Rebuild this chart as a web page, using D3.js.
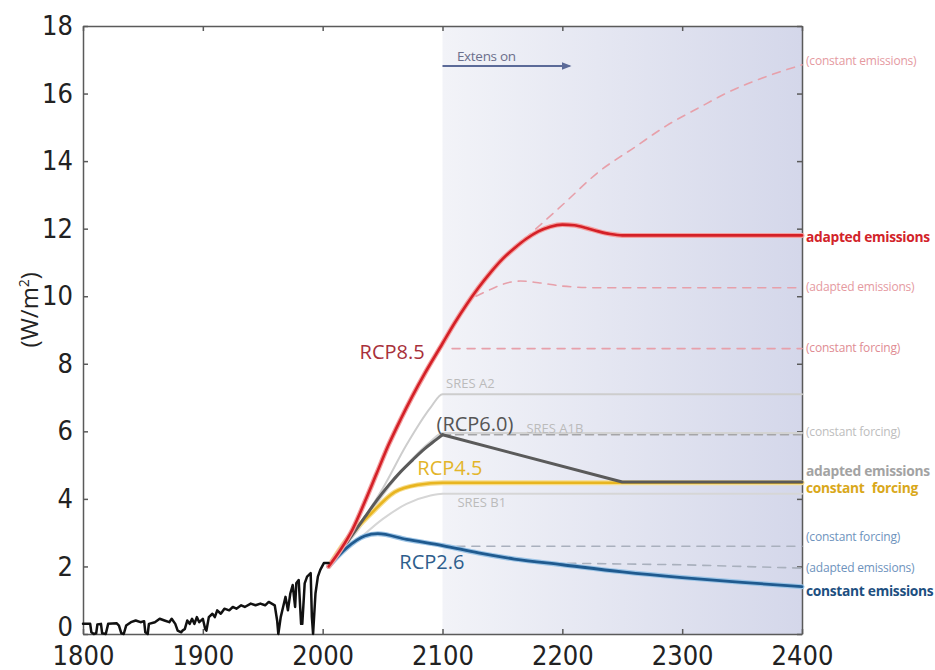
<!DOCTYPE html>
<html lang="en">
<head>
  <meta charset="UTF-8">
  <title>Radiative forcing extensions</title>
  <style>
    body {
      margin: 0;
      background: #fff;
      overflow: hidden;
    }
    svg {
      display: block;
      font-family: "Open Sans", "Noto Sans", sans-serif;
    }
    .axis path, .axis line {
      stroke: #5a5a5a;
      stroke-width: 1.5px;
    }
    .axis text {
      font-family: "Liberation Sans Narrow", "DejaVu Sans Condensed", sans-serif;
      font-size: 27px;
      fill: #222;
    }
  </style>
</head>
<body>

<div id="chart"></div>

<script src="https://d3js.org/d3.v7.min.js"></script>
<script>
// forcing values in W/m2
const historical = [
  [1800,0.3],[1806,0.3],[1807,0.05],[1809,0.0],[1811,0.02],[1812,0.28],[1815,0.3],[1816,0.02],[1819,0.0],
  [1821,0.3],[1828,0.32],[1830,0.25],[1832,0.02],[1834,0.0],[1836,0.25],[1840,0.35],[1844,0.4],[1848,0.35],
  [1851,0.38],[1852,0.05],[1854,0.0],[1855,0.3],[1860,0.35],[1864,0.45],[1868,0.4],[1872,0.35],[1874,0.45],
  [1877,0.3],[1879,0.1],[1882,0.05],[1883,0.1],[1885,0.15],[1887,0.4],[1889,0.3],[1891,0.45],[1893,0.3],
  [1895,0.5],[1897,0.35],[1900,0.45],[1902,0.15],[1903,0.1],[1905,0.5],[1908,0.6],[1910,0.5],[1912,0.7],
  [1915,0.6],[1918,0.75],[1922,0.7],[1925,0.8],[1928,0.75],[1932,0.85],[1935,0.8],[1940,0.9],[1944,0.85],
  [1948,0.9],[1952,0.85],[1955,0.95],[1960,0.85],[1962,0.4],[1963,0.0],[1965,0.5],[1967,0.8],[1969,1.1],
  [1971,0.7],[1973,1.2],[1975,1.45],[1977,0.8],[1978,1.5],[1980,1.6],[1982,0.3],[1983,0.3],[1985,1.5],
  [1987,1.7],[1990,1.8],[1991,0.5],[1992,0.0],[1994,1.2],[1996,1.7],[1998,1.9],[2001,2.1],[2005,2.1]
];

const rcp85 = [
  [2005,2.0],[2015,2.5],[2025,3.1],[2035,3.9],[2045,4.75],[2055,5.6],[2065,6.35],[2075,7.05],[2085,7.7],
  [2100,8.6],[2110,9.2],[2120,9.75],[2130,10.25],[2140,10.7],[2150,11.1],[2160,11.42],[2170,11.7],
  [2180,11.92],[2190,12.06],[2200,12.12],[2210,12.1],[2220,12.02],[2230,11.92],[2240,11.84],[2250,11.8],
  [2400,11.8]
];
const rcp85ConstEmis = [
  [2150,11.1],[2175,11.9],[2200,12.7],[2231,13.7],[2260,14.4],[2287,15.05],[2315,15.6],[2342,16.1],
  [2370,16.5],[2400,16.85]
];
const rcp85AdaptEmis = [
  [2128,10.0],[2140,10.2],[2150,10.35],[2165,10.45],[2180,10.4],[2200,10.3],[2230,10.25],[2400,10.25]
];
const rcp85ConstForc = [[2108,8.45],[2400,8.45]];

const sresA2 = [[2005,2.0],[2030,3.2],[2050,4.3],[2070,5.6],[2090,6.7],[2100,7.1],[2400,7.1]];
const sresA1B = [[2005,2.0],[2030,3.1],[2050,4.1],[2070,5.0],[2090,5.7],[2100,5.95],[2400,5.95]];
const sresB1 = [[2005,2.0],[2030,2.8],[2050,3.4],[2070,3.85],[2090,4.1],[2100,4.15],[2400,4.15]];

const rcp60 = [
  [2005,2.0],[2015,2.45],[2025,2.95],[2035,3.45],[2045,3.95],[2055,4.4],[2065,4.8],[2075,5.15],
  [2085,5.48],[2095,5.76],[2100,5.9],[2250,4.5],[2400,4.5]
];
const rcp60ConstForc = [[2100,5.9],[2400,5.9]];

const rcp45 = [[2005,2.0],[2020,2.8],[2040,3.55],[2060,4.2],[2080,4.42],[2100,4.48],[2400,4.48]];

const rcp26 = [
  [2005,2.0],[2020,2.55],[2035,2.9],[2046,2.97],[2070,2.8],[2100,2.62],[2130,2.4],[2160,2.22],
  [2200,2.05],[2250,1.84],[2300,1.67],[2350,1.53],[2400,1.4]
];
const rcp26ConstForc = [[2112,2.6],[2400,2.6]];
const rcp26AdaptEmis = [[2192,2.1],[2300,2.05],[2400,1.95]];

const yTicks = [0, 2, 4, 6, 8, 10, 12, 14, 16, 18];
const xTicks = [1800, 1900, 2000, 2100, 2200, 2300, 2400];

const rightLabels = [
  {v: 16.96, text: "(constant emissions)", color: "#e59a9f", bold: false},
  {v: 11.75, text: "adapted emissions",    color: "#d2232a", bold: true},
  {v: 10.27, text: "(adapted emissions)",  color: "#e59a9f", bold: false},
  {v: 8.47,  text: "(constant forcing)",   color: "#e08c93", bold: false},
  {v: 5.98,  text: "(constant forcing)",   color: "#bdbdbd", bold: false},
  {v: 4.83,  text: "adapted emissions",    color: "#a3a3a3", bold: true},
  {v: 4.32,  text: "constant forcing",     color: "#d9a81a", bold: true},
  {v: 2.87,  text: "(constant forcing)",   color: "#6e93bd", bold: false},
  {v: 1.95,  text: "(adapted emissions)",  color: "#6e93bd", bold: false},
  {v: 1.27,  text: "constant emissions",   color: "#1d4f80", bold: true}
];

const seriesLabels = [
  {t: 'RCP8.5',   yr: 2030.8, v: 8.35, color: '#a8303a', size: 20},
  {t: '(RCP6.0)', yr: 2095,   v: 6.22, color: '#555',    size: 20},
  {t: 'RCP4.5',   yr: 2079,   v: 4.91, color: '#e3b52a', size: 20},
  {t: 'RCP2.6',   yr: 2064,   v: 2.13, color: '#2d5d8c', size: 20},
  {t: 'SRES A2',  yr: 2103,   v: 7.43, color: '#bbbbbb', size: 13},
  {t: 'SRES A1B', yr: 2170,   v: 6.1,  color: '#bbbbbb', size: 13},
  {t: 'SRES B1',  yr: 2112.5, v: 3.88, color: '#bbbbbb', size: 13}
];

const width = 935;
const height = 670;

const x = d3.scaleLinear().domain([1800, 2400]).range([83, 802]);
const y = d3.scaleLinear().domain([0, 18]).range([634, 26]);

const svg = d3.select('#chart')
    .append('svg')
    .attr('width', width)
    .attr('height', height);

// shaded extension period
const defs = svg.append('defs');
const grad = defs.append('linearGradient')
    .attr('id', 'ext')
    .attr('x1', '0%').attr('x2', '100%');
grad.append('stop').attr('offset', '0%').attr('stop-color', '#f2f3f8');
grad.append('stop').attr('offset', '100%').attr('stop-color', '#d4d7ea');

svg.append('rect')
    .attr('x', x(2100))
    .attr('y', y(18))
    .attr('width', x(2400) - x(2100))
    .attr('height', y(0) - y(18))
    .attr('fill', 'url(#ext)');

// axes, ticks pointing inward
const yAxis = svg.append('g')
    .attr('class', 'axis')
    .attr('transform', `translate(${x(1800)},0)`)
    .call(d3.axisLeft(y).tickValues(yTicks).tickSize(-5).tickPadding(10).tickSizeOuter(0));
// the 0 sits just above the 1800 label
yAxis.selectAll('.tick').filter(d => d === 0).select('text').attr('dy', '0.05em');

svg.append('g')
    .attr('class', 'axis')
    .attr('transform', `translate(${x(2400)},0)`)
    .call(d3.axisRight(y).tickValues(yTicks).tickSize(-5).tickFormat('').tickSizeOuter(0));

svg.append('g')
    .attr('class', 'axis')
    .attr('transform', `translate(0,${y(0)})`)
    .call(d3.axisBottom(x).tickValues(xTicks).tickFormat(d3.format('d')).tickSize(-5).tickPadding(12).tickSizeOuter(0));

svg.append('g')
    .attr('class', 'axis')
    .attr('transform', `translate(0,${y(18)})`)
    .call(d3.axisTop(x).tickValues(xTicks).tickSize(-5).tickFormat('').tickSizeOuter(0));

svg.selectAll('.axis').attr('font-family', null).attr('font-size', null);

// y label
svg.append('text')
    .attr('transform', `translate(38,${y(9.6)}) rotate(-90)`)
    .attr('text-anchor', 'middle')
    .attr('font-size', 24)
    .attr('fill', '#222')
    .html('(W/m<tspan dy="-9" font-size="14">2</tspan><tspan dy="9">)</tspan>');

const line = d3.line()
    .x(d => x(d[0]))
    .y(d => y(d[1]))
    .curve(d3.curveMonotoneX);

const straight = d3.line()
    .x(d => x(d[0]))
    .y(d => y(d[1]));

function draw(data, color, w, dash, gen) {
    svg.append('path')
        .datum(data)
        .attr('fill', 'none')
        .attr('stroke', color)
        .attr('stroke-width', w)
        .attr('stroke-dasharray', dash || null)
        .attr('stroke-linejoin', 'round')
        .attr('stroke-linecap', 'round')
        .attr('d', gen || line);
}

// SRES reference lines
draw(sresA2, '#cdcdcd', 2);
draw(sresA1B, '#d3d3d3', 2);
draw(sresB1, '#d6d6d6', 2);

// dashed extension variants
draw(rcp85ConstEmis, '#e7a0aa', 1.6, '8,7');
draw(rcp85AdaptEmis, '#e7a0aa', 1.6, '8,7');
draw(rcp85ConstForc, '#e7a0aa', 1.6, '8,7', straight);
draw(rcp60ConstForc, '#a5a5a8', 1.6, '8,5', straight);
draw(rcp26ConstForc, '#a9b0bd', 1.6, '8,7', straight);
draw(rcp26AdaptEmis, '#a9b0bd', 1.6, '8,7', straight);

// main pathways, light halo under the strong line
draw(rcp45, '#f6dd8f', 5);
draw(rcp45, '#e8b520', 2.6);
// RCP6.0: smooth rise to 2100, then straight ramp down
draw(rcp60.filter(d => d[0] <= 2100), '#5a5a5a', 3);
draw(rcp60.filter(d => d[0] >= 2100), '#5a5a5a', 3, null, straight);
draw(rcp26, '#9cc4e6', 5);
draw(rcp26, '#1f5a8f', 2.8);
draw(rcp85, '#f3a2a2', 5);
draw(rcp85, '#d42027', 2.6);

draw(historical, '#111', 2.5, null, straight);

// series labels
svg.selectAll('.slabel')
    .data(seriesLabels)
    .enter().append('text')
    .attr('class', 'slabel')
    .attr('x', d => x(d.yr))
    .attr('y', d => y(d.v))
    .attr('dy', '0.35em')
    .attr('font-size', d => d.size)
    .attr('fill', d => d.color)
    .text(d => d.t);

// right-hand scenario labels
svg.selectAll('.rlabel')
    .data(rightLabels)
    .enter().append('text')
    .attr('class', 'rlabel')
    .attr('x', x(2400) + 4)
    .attr('y', d => y(d.v))
    .attr('dy', '0.35em')
    .attr('font-size', d => d.bold ? 13.8 : 12)
    .attr('font-weight', d => d.bold ? 700 : 400)
    .attr('letter-spacing', d => d.bold ? -0.3 : -0.2)
    .attr('word-spacing', d => d.text === 'constant forcing' ? 4 : 0)
    .attr('fill', d => d.color)
    .text(d => d.text);

// extension arrow
defs.append('marker')
    .attr('id', 'arrow')
    .attr('viewBox', '0 0 10 10')
    .attr('refX', 8).attr('refY', 5)
    .attr('markerWidth', 5).attr('markerHeight', 5)
    .attr('orient', 'auto')
    .append('path')
    .attr('d', 'M0,1 L10,5 L0,9 z')
    .attr('fill', '#5b6a98');

svg.append('line')
    .attr('x1', x(2100)).attr('x2', x(2206))
    .attr('y1', 66).attr('y2', 66)
    .attr('stroke', '#5b6a98')
    .attr('stroke-width', 2)
    .attr('marker-end', 'url(#arrow)');

svg.append('text')
    .attr('x', x(2112))
    .attr('y', 56)
    .attr('dy', '0.35em')
    .attr('font-size', 13.5)
    .attr('letter-spacing', -0.3)
    .attr('fill', '#6b6f8c')
    .text('Extens on');
</script>
</body>
</html>
